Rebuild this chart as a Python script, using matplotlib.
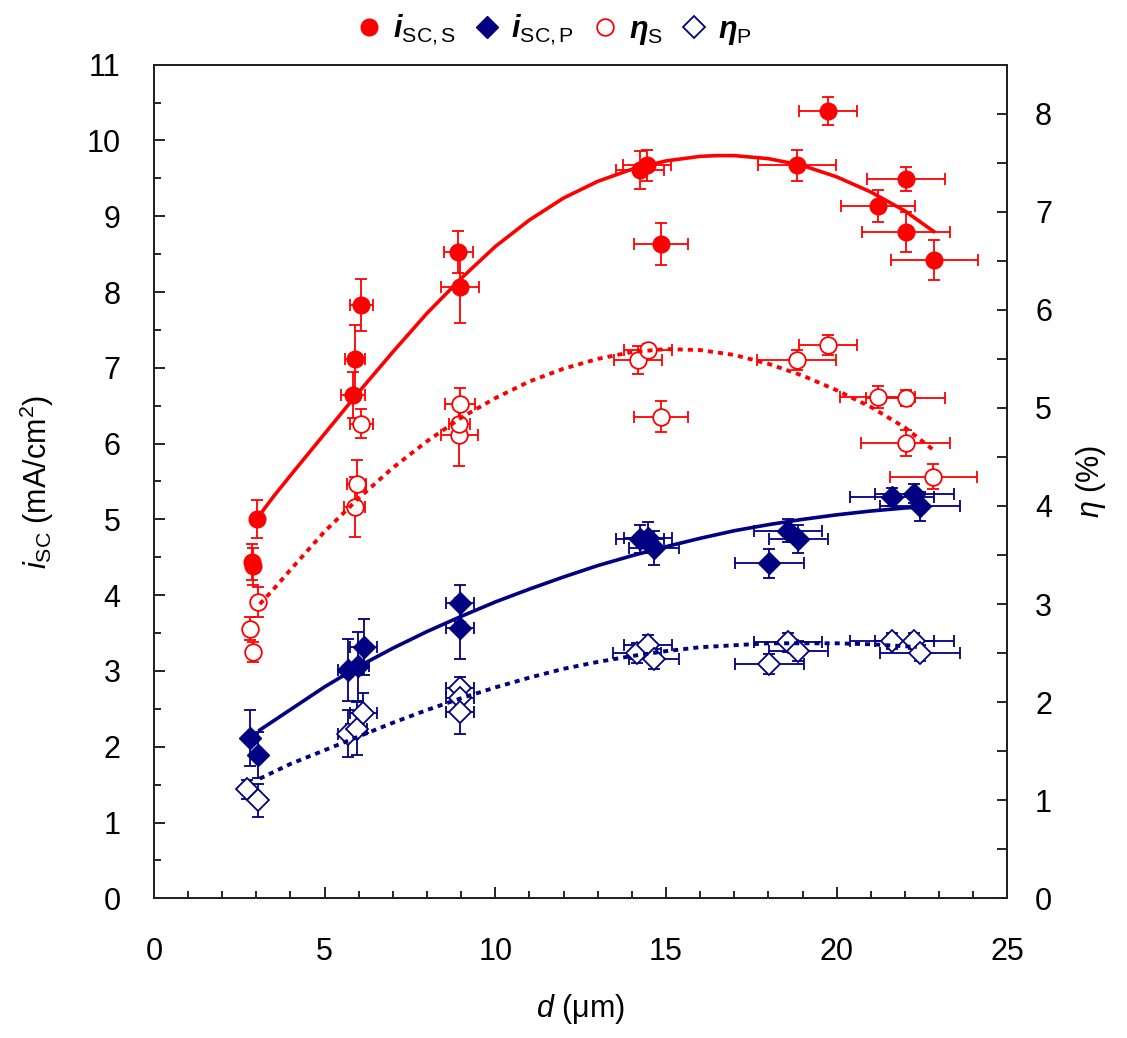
import numpy as np
import matplotlib
matplotlib.use('Agg')
import matplotlib.pyplot as plt
import matplotlib.ticker as ticker
from matplotlib.lines import Line2D

plt.rcParams['font.family'] = ['Liberation Sans', 'DejaVu Sans']
plt.rcParams['mathtext.fontset'] = 'custom'
plt.rcParams['mathtext.rm'] = 'Liberation Sans'
plt.rcParams['mathtext.it'] = 'Liberation Sans:italic'
plt.rcParams['mathtext.bf'] = 'Liberation Sans:bold'
plt.rcParams['mathtext.bfit'] = 'Liberation Sans:italic:bold'

red = '#ff0000'
navy = '#000080'

# i_SC series (left axis), substrate S
isc_s_d = [2.86, 2.90, 3.01, 5.84, 5.89, 6.08, 8.92, 8.97, 14.24, 14.44, 14.86, 18.83, 19.76, 21.22, 22.03, 22.03, 22.86]
isc_s = [4.44, 4.38, 5.01, 6.64, 7.12, 7.83, 8.53, 8.07, 9.61, 9.67, 8.63, 9.67, 10.39, 9.14, 9.49, 8.79, 8.42]
isc_s_dx = [0.1, 0.1, 0.1, 0.35, 0.3, 0.35, 0.43, 0.55, 0.7, 0.7, 0.8, 1.14, 0.85, 1.09, 1.15, 1.3, 1.28]
isc_s_dy = [0.24, 0.24, 0.25, 0.3, 0.45, 0.34, 0.28, 0.48, 0.25, 0.2, 0.28, 0.2, 0.18, 0.21, 0.16, 0.26, 0.26]

# i_SC series, substrate P
isc_p_d = [2.81, 3.06, 5.69, 5.99, 6.14, 8.97, 8.97, 14.24, 14.48, 14.66, 18.03, 18.57, 18.88, 21.63, 22.28, 22.44]
isc_p = [2.11, 1.89, 3.01, 3.06, 3.32, 3.89, 3.56, 4.74, 4.76, 4.62, 4.42, 4.85, 4.74, 5.30, 5.34, 5.17]
isc_p_dx = [0.1, 0.1, 0.3, 0.3, 0.4, 0.42, 0.4, 0.7, 0.7, 0.73, 1.0, 1.0, 0.87, 1.23, 1.17, 1.17]
isc_p_dy = [0.37, 0.3, 0.41, 0.46, 0.37, 0.25, 0.4, 0.19, 0.2, 0.22, 0.19, 0.15, 0.18, 0.12, 0.13, 0.19]

# efficiency (right axis), S
eta_s_d = [3.06, 2.81, 2.91, 5.88, 5.94, 6.08, 8.95, 8.95, 8.97, 14.19, 14.48, 14.86, 18.83, 19.76, 21.20, 22.02, 22.02, 22.83]
eta_s = [3.02, 2.75, 2.51, 3.99, 4.22, 4.84, 4.72, 4.84, 5.04, 5.49, 5.59, 4.91, 5.49, 5.64, 5.11, 5.10, 4.64, 4.30]
eta_s_dx = [0.1, 0.12, 0.1, 0.3, 0.28, 0.35, 0.54, 0.3, 0.45, 0.7, 0.7, 0.8, 1.15, 0.85, 1.09, 1.15, 1.3, 1.28]
eta_s_dy = [0.15, 0.12, 0.1, 0.31, 0.25, 0.15, 0.31, 0.15, 0.16, 0.14, 0.06, 0.16, 0.1, 0.1, 0.11, 0.08, 0.13, 0.13]

# efficiency, P
eta_p_d = [2.72, 3.06, 5.69, 5.94, 6.13, 8.97, 8.97, 8.97, 14.16, 14.48, 14.66, 18.03, 18.57, 18.88, 21.63, 22.28, 22.44]
eta_p = [1.11, 1.00, 1.68, 1.73, 1.89, 2.14, 2.04, 1.90, 2.50, 2.58, 2.44, 2.39, 2.61, 2.52, 2.62, 2.62, 2.50]
eta_p_dx = [0.1, 0.1, 0.3, 0.3, 0.4, 0.4, 0.4, 0.4, 0.7, 0.7, 0.73, 1.0, 1.0, 0.87, 1.23, 1.17, 1.17]
eta_p_dy = [0.1, 0.17, 0.24, 0.27, 0.2, 0.12, 0.12, 0.22, 0.1, 0.1, 0.1, 0.1, 0.1, 0.1, 0.08, 0.08, 0.08]

# trend curves
fit_isc_s_d = [3.0, 3.5, 4, 5, 6, 7, 8, 9, 10, 11, 12, 13, 14, 15, 16, 16.5, 17, 18, 19, 20, 21, 22, 22.84]
fit_isc_s = [5.0, 5.30, 5.58, 6.13, 6.68, 7.21, 7.72, 8.18, 8.60, 8.95, 9.24, 9.46, 9.62, 9.73, 9.79, 9.80, 9.80, 9.76, 9.67, 9.52, 9.32, 9.07, 8.80]
fit_eta_s_d = [3.1, 3.5, 4, 5, 6, 7, 8, 9, 10, 11, 12, 13, 14, 15, 16, 17, 18, 19, 20, 21, 22, 22.84]
fit_eta_s = [3.0, 3.15, 3.35, 3.74, 4.08, 4.39, 4.66, 4.90, 5.10, 5.27, 5.40, 5.50, 5.57, 5.60, 5.59, 5.54, 5.45, 5.33, 5.18, 5.01, 4.80, 4.57]
fit_isc_p_d = [3.1, 4, 5, 6, 7, 8, 9, 10, 11, 12, 13, 14, 15, 16, 17, 18, 19, 20, 21, 22, 22.64]
fit_isc_p = [2.22, 2.49, 2.79, 3.06, 3.30, 3.52, 3.72, 3.91, 4.08, 4.24, 4.39, 4.52, 4.64, 4.75, 4.85, 4.93, 5.00, 5.06, 5.11, 5.15, 5.17]
fit_eta_p_d = [3.1, 4, 5, 6, 7, 8, 9, 10, 11, 12, 13, 14, 15, 16, 17, 18, 19, 20, 21, 22, 22.35]
fit_eta_p = [1.22, 1.37, 1.51, 1.65, 1.79, 1.92, 2.04, 2.15, 2.25, 2.34, 2.41, 2.47, 2.52, 2.56, 2.58, 2.60, 2.60, 2.60, 2.59, 2.57, 2.56]

fig = plt.figure(figsize=(11.27, 10.38), dpi=100)
ax = fig.add_axes([0.1366, 0.1346, 0.7572, 0.8031])
ax2 = ax.twinx()

eb = dict(elinewidth=1.3, capsize=4, capthick=1.3, linestyle='none')

ax.plot(fit_isc_s_d, fit_isc_s, color=red, lw=2.6, zorder=3)
ax.plot(fit_isc_p_d, fit_isc_p, color=navy, lw=2.6, zorder=3)
ax2.plot(fit_eta_s_d, fit_eta_s, color=red, lw=2.8, ls=(0, (1.3, 1.3)), zorder=3)
ax2.plot(fit_eta_p_d, fit_eta_p, color=navy, lw=2.8, ls=(0, (1.3, 1.3)), zorder=3)

ax.errorbar(isc_s_d, isc_s, xerr=isc_s_dx, yerr=isc_s_dy, fmt='o', ms=12,
            color=red, mfc=red, mec=red, **eb)
ax.errorbar(isc_p_d, isc_p, xerr=isc_p_dx, yerr=isc_p_dy, fmt='D', ms=11,
            color=navy, mfc=navy, mec=navy, **eb)
ax2.errorbar(eta_s_d, eta_s, xerr=eta_s_dx, yerr=eta_s_dy, fmt='o', ms=12,
             color=red, mfc='white', mec=red, mew=1.3, **eb)
ax2.errorbar(eta_p_d, eta_p, xerr=eta_p_dx, yerr=eta_p_dy, fmt='D', ms=11,
             color=navy, mfc='white', mec=navy, mew=1.3, **eb)

ax.set_xlim(0, 25)
ax.set_ylim(0, 11)
ax2.set_ylim(0, 8.5)

ax.xaxis.set_major_locator(ticker.MultipleLocator(5))
ax.xaxis.set_minor_locator(ticker.MultipleLocator(1))
ax.yaxis.set_major_locator(ticker.MultipleLocator(1))
ax.yaxis.set_minor_locator(ticker.MultipleLocator(0.5))
ax2.yaxis.set_major_locator(ticker.MultipleLocator(1))
ax2.yaxis.set_minor_locator(ticker.MultipleLocator(0.5))

ax.tick_params(which='both', direction='in', width=1.2, labelsize=22, top=False, right=False)
ax.tick_params(axis='x', which='major', length=8, pad=28)
ax.tick_params(axis='x', which='minor', length=5)
ax.tick_params(axis='y', which='major', length=8, pad=24)
ax.tick_params(axis='y', which='minor', length=5)
ax2.tick_params(which='both', direction='in', width=1.2, length=7, labelsize=22, pad=20)

for a in (ax, ax2):
    for s in a.spines.values():
        s.set_linewidth(1.4)
        s.set_color('#222222')

ax.set_xlabel(r'$d$ (μm)', fontsize=22, labelpad=18)
ax.set_ylabel(r'$i_{\rm SC}$ (mA/cm$^2$)', fontsize=22, labelpad=22)
ax2.set_ylabel(r'$\eta$ (%)', fontsize=22, labelpad=16)

handles = [
    Line2D([], [], ls='none', marker='o', ms=12, color=red),
    Line2D([], [], ls='none', marker='D', ms=11, color=navy),
    Line2D([], [], ls='none', marker='o', ms=12, mfc='white', mec=red, mew=1.3),
    Line2D([], [], ls='none', marker='D', ms=11, mfc='white', mec=navy, mew=1.3),
]
labels = [r'$\mathbfit{i}_{\rm SC,S}$', r'$\mathbfit{i}_{\rm SC,P}$',
          r'$\mathbfit{\eta}_{\rm S}$', r'$\mathbfit{\eta}_{\rm P}$']
fig.legend(handles, labels, loc='upper center', bbox_to_anchor=(0.492, 1.014),
           ncol=4, frameon=False, fontsize=22, handlelength=0.8,
           handletextpad=0.4, columnspacing=0.6)

plt.savefig('out.png', dpi=100)
